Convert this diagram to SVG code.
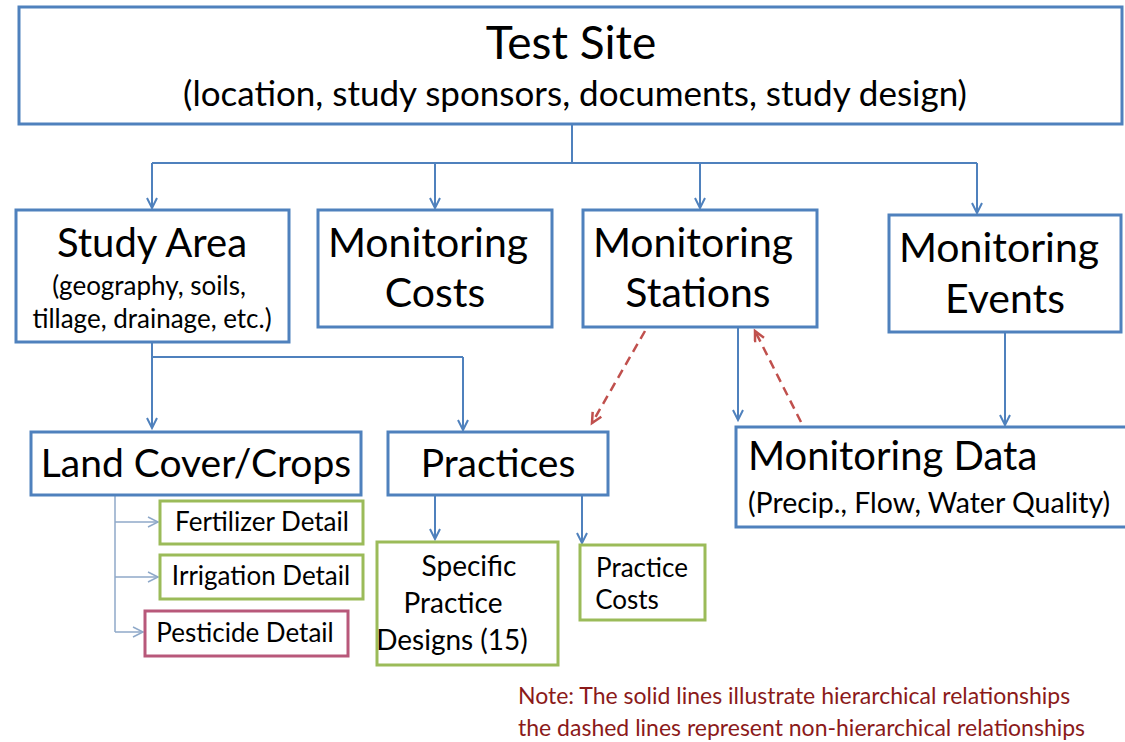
<svg xmlns="http://www.w3.org/2000/svg" width="1125" height="742" viewBox="0 0 1125 742">
<defs>
<marker id="ab" markerWidth="14" markerHeight="14" refX="11" refY="6" orient="auto" markerUnits="userSpaceOnUse">
<path d="M1,1 L11,6 L1,11" fill="none" stroke="#4f81bd" stroke-width="2"/>
</marker>
<marker id="ar" markerWidth="14" markerHeight="14" refX="11" refY="6" orient="auto" markerUnits="userSpaceOnUse">
<path d="M1,1 L11,6 L1,11" fill="none" stroke="#c0504d" stroke-width="2.5"/>
</marker>
<marker id="ag" markerWidth="14" markerHeight="14" refX="11" refY="6" orient="auto" markerUnits="userSpaceOnUse">
<path d="M1,1 L11,6 L1,11" fill="none" stroke="#8fa9c9" stroke-width="1.5"/>
</marker>
</defs>
<style>
text{font-family:Lato,"Open Sans","Liberation Sans",sans-serif;fill:#000}
.box{fill:#fff;stroke:#4f81bd;stroke-width:3}
.gbox{fill:#fff;stroke:#9bbb59;stroke-width:3}
.pbox{fill:#fff;stroke:#b8587a;stroke-width:3}
.c{fill:none;stroke:#4f81bd;stroke-width:2}
.cl{fill:none;stroke:#8fa9c9;stroke-width:1.5}
.d{fill:none;stroke:#c0504d;stroke-width:2.5;stroke-dasharray:9 6}
.big{font-size:46px}
.mid{font-size:41px}
.sub{font-size:35px}
.sm{font-size:26px}
.det{font-size:26px}
.pr{font-size:28px}
.note{font-size:23px;fill:#8b1a1a}
</style>
<rect width="1125" height="742" fill="#fff"/>
<g id="connectors">
<path class="c" d="M572,124 V163 M152,163 H977"/>
<path class="c" d="M152,163 V208" marker-end="url(#ab)"/>
<path class="c" d="M435,163 V208" marker-end="url(#ab)"/>
<path class="c" d="M700,163 V208" marker-end="url(#ab)"/>
<path class="c" d="M977,163 V213" marker-end="url(#ab)"/>
<path class="c" d="M152,342 V357 H463"/>
<path class="c" d="M152,357 V428" marker-end="url(#ab)"/>
<path class="c" d="M463,357 V430" marker-end="url(#ab)"/>
<path class="c" d="M738,327 V420" marker-end="url(#ab)"/>
<path class="c" d="M1005,332 V425" marker-end="url(#ab)"/>
<path class="d" d="M645,331 L592,423" marker-end="url(#ar)"/>
<path class="d" d="M801,422 L755,331" marker-end="url(#ar)"/>
<path class="c" d="M435,495 V539" marker-end="url(#ab)"/>
<path class="c" d="M582,495 V543" marker-end="url(#ab)"/>
<path class="cl" d="M115,495 V632"/>
<path class="cl" d="M115,522 H158" marker-end="url(#ag)"/>
<path class="cl" d="M115,577 H158" marker-end="url(#ag)"/>
<path class="cl" d="M115,632 H143" marker-end="url(#ag)"/>
</g>
<g id="test-site">
<rect class="box" x="19" y="7" width="1103" height="117"/>
<text class="big" x="571" y="59" text-anchor="middle">Test Site</text>
<text class="sub" x="575" y="106" text-anchor="middle">(location, study sponsors, documents, study design)</text>
</g>
<g id="study-area">
<rect class="box" x="16" y="210" width="273" height="132"/>
<text class="mid" x="152" y="257" text-anchor="middle" style="font-size:40px">Study Area</text>
<text class="sm" x="149" y="295" text-anchor="middle">(geography, soils,</text>
<text class="sm" x="152" y="328" text-anchor="middle">tillage, drainage, etc.)</text>
</g>
<g id="monitoring-costs">
<rect class="box" x="318" y="210" width="234" height="117"/>
<text class="mid" x="428" y="257" text-anchor="middle">Monitoring</text>
<text class="mid" x="435" y="307" text-anchor="middle">Costs</text>
</g>
<g id="monitoring-stations">
<rect class="box" x="583" y="210" width="234" height="117"/>
<text class="mid" x="693" y="257" text-anchor="middle">Monitoring</text>
<text class="mid" x="698" y="307" text-anchor="middle">Stations</text>
</g>
<g id="monitoring-events">
<rect class="box" x="889" y="215" width="232" height="117"/>
<text class="mid" x="999" y="262" text-anchor="middle">Monitoring</text>
<text class="mid" x="1005" y="313" text-anchor="middle">Events</text>
</g>
<g id="land-cover">
<rect class="box" x="31" y="432" width="330" height="63"/>
<text class="mid" x="196" y="477" text-anchor="middle" style="font-size:39px">Land Cover/Crops</text>
</g>
<g id="practices">
<rect class="box" x="388" y="432" width="220" height="63"/>
<text class="mid" x="498" y="477" text-anchor="middle" style="font-size:39px">Practices</text>
</g>
<g id="monitoring-data">
<rect class="box" x="736" y="427" width="395" height="100"/>
<text class="mid" x="748" y="470" style="font-size:40px">Monitoring Data</text>
<text class="sm" x="748" y="513" style="font-size:28.5px">(Precip., Flow, Water Quality)</text>
</g>
<g id="fertilizer-detail">
<rect class="gbox" x="160" y="501" width="203" height="43"/>
<text class="det" x="262" y="531" text-anchor="middle">Fertilizer Detail</text>
</g>
<g id="irrigation-detail">
<rect class="gbox" x="160" y="555" width="203" height="44"/>
<text class="det" x="261" y="585" text-anchor="middle">Irrigation Detail</text>
</g>
<g id="pesticide-detail">
<rect class="pbox" x="145" y="611" width="203" height="45"/>
<text class="det" x="245" y="642" text-anchor="middle">Pesticide Detail</text>
</g>
<g id="specific-practice-designs">
<rect class="gbox" x="377" y="542" width="181" height="123"/>
<text class="pr" x="469" y="576" text-anchor="middle">Specific</text>
<text class="pr" x="453" y="613" text-anchor="middle">Practice</text>
<text class="pr" x="452" y="650" text-anchor="middle">Designs (15)</text>
</g>
<g id="practice-costs">
<rect class="gbox" x="580" y="545" width="125" height="75"/>
<text class="pr" x="642" y="577" text-anchor="middle" style="font-size:26px">Practice</text>
<text class="pr" x="627" y="609" text-anchor="middle" style="font-size:26px">Costs</text>
</g>
<g id="note">
<text class="note" x="518" y="704">Note: The solid lines illustrate hierarchical relationships</text>
<text class="note" x="518" y="736">the dashed lines represent non-hierarchical relationships</text>
</g>
</svg>
